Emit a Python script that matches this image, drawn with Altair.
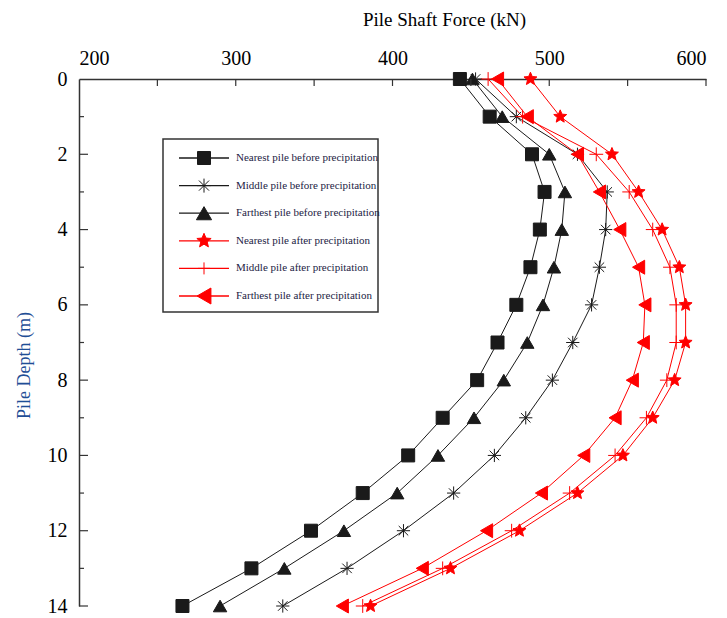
import math
import altair as alt
import pandas as pd

# ---------------- data ----------------
depth = list(range(15))
series = [
    "Nearest pile before precipitation",
    "Middle pile before precipitation",
    "Farthest pile before precipitation",
    "Nearest pile after precipitation",
    "Middle pile after precipitation",
    "Farthest pile after precipitation",
]
nearest_before = [443, 462, 489, 497, 494, 488, 479, 467, 454, 432, 410, 381, 348, 310, 266]
middle_before = [453, 479, 518, 537, 536, 532, 527, 515, 502, 485, 465, 439, 407, 371, 330]
farthest_before = [451, 470, 500, 510, 508, 503, 496, 486, 471, 452, 429, 403, 369, 331, 290]
nearest_after = [488, 507, 540, 557, 572, 583, 587, 587, 580, 566, 547, 518, 481, 437, 386]
middle_after = [461, 483, 530, 551, 566, 577, 581, 581, 575, 562, 542, 513, 476, 432, 381]
farthest_after = [467, 486, 518, 532, 545, 557, 561, 560, 553, 542, 522, 495, 460, 419, 368]
values = [nearest_before, middle_before, farthest_before,
          nearest_after, middle_after, farthest_after]

x_labels = [200, 300, 400, 500, 600]
x_ticks = [250, 300, 350, 400, 450, 500, 550, 600]
y_labels = [0, 2, 4, 6, 8, 10, 12, 14]
y_major_ticks = [2, 4, 6, 8, 10, 12, 14]
y_minor_ticks = [1, 3, 5, 7, 9, 11, 13]

# ---------------- styles ----------------
FONT = "Liberation Serif"
BLACK = "#1a1a1a"
RED = "#ff0000"
colors = [BLACK, BLACK, BLACK, RED, RED, RED]


def star_path(outer=1.0, inner=0.45):
    pts = []
    for k in range(10):
        r = outer if k % 2 == 0 else inner
        a = math.radians(-90 + 36 * k)
        pts.append((r * math.cos(a), r * math.sin(a)))
    return "M" + "L".join(f"{x:.3f},{y:.3f}" for x, y in pts) + "Z"


ASTERISK = "M0,-1V1M-1,0H1M-0.72,-0.72L0.72,0.72M-0.72,0.72L0.72,-0.72"
PLUS = "M0,-1V1M-1,0H1"
shapes = ["square", ASTERISK, "triangle-up", star_path(), PLUS, "triangle-left"]
sizes = [169, 196, 230, 225, 144, 256]

rows = []
for s, vals in zip(series, values):
    for d, v in zip(depth, vals):
        rows.append({"series": s, "depth": d, "force": v})
df = pd.DataFrame(rows)

W, H = 627, 527

x_scale = alt.Scale(domain=[200, 600], nice=False, zero=False)
y_scale = alt.Scale(domain=[0, 14], reverse=True, nice=False, zero=False)

base = alt.Chart(df)

lines = base.mark_line(strokeWidth=1).encode(
    x=alt.X("force:Q", scale=x_scale,
            axis=alt.Axis(orient="top", values=x_labels, ticks=False, tickSize=0,
                          grid=False, labelFont=FONT, labelFontSize=20,
                          labelColor="black", labelPadding=11,
                          domainColor="#333333", domainWidth=1.5,
                          title="Pile Shaft Force (kN)", titleFont=FONT,
                          titleFontSize=19, titleFontWeight="normal",
                          titleColor="black", titleX=365, titleY=-54,
                          titleBaseline="alphabetic", titleAlign="center")),
    y=alt.Y("depth:Q", scale=y_scale,
            axis=alt.Axis(orient="left", values=y_labels, ticks=False, tickSize=0,
                          grid=False, labelFont=FONT, labelFontSize=20,
                          labelColor="black", labelPadding=12,
                          domainColor="#333333", domainWidth=1.5,
                          title="Pile Depth (m)", titleFont=FONT,
                          titleFontSize=18, titleFontWeight="normal",
                          titleColor="#1f4e96", titleX=-55, titleY=286,
                          titleAngle=270, titleBaseline="middle",
                          titleAlign="center")),
    color=alt.Color("series:N", scale=alt.Scale(domain=series, range=colors), legend=None),
    detail="series:N",
    order="depth:Q",
)

points = base.mark_point(filled=True, strokeWidth=1, opacity=1).encode(
    x=alt.X("force:Q", scale=x_scale),
    y=alt.Y("depth:Q", scale=y_scale),
    shape=alt.Shape("series:N", scale=alt.Scale(domain=series, range=shapes), legend=None),
    fill=alt.Fill("series:N", scale=alt.Scale(domain=series, range=colors), legend=None),
    stroke=alt.Stroke("series:N", scale=alt.Scale(domain=series, range=colors), legend=None),
    size=alt.Size("series:N", scale=alt.Scale(domain=series, range=sizes), legend=None),
)

# inward ticks
xt = alt.Chart(pd.DataFrame({"v": x_ticks})).mark_rule(color="#333333", strokeWidth=1.2).encode(
    x=alt.X("v:Q", scale=x_scale), y=alt.value(0), y2=alt.value(7))
yt_major = alt.Chart(pd.DataFrame({"v": y_major_ticks})).mark_rule(color="#333333", strokeWidth=1.2).encode(
    y=alt.Y("v:Q", scale=y_scale), x=alt.value(0), x2=alt.value(9))
yt_minor = alt.Chart(pd.DataFrame({"v": y_minor_ticks})).mark_rule(color="#333333", strokeWidth=1.2).encode(
    y=alt.Y("v:Q", scale=y_scale), x=alt.value(0), x2=alt.value(5))

# legend (drawn manually to show line + marker)
one = pd.DataFrame({"a": [0]})
legend_layers = [
    alt.Chart(one).mark_rect(fill="white", stroke="#333333", strokeWidth=1.5).encode(
        x=alt.value(84), x2=alt.value(299), y=alt.value(60), y2=alt.value(233))
]
for i, s in enumerate(series):
    yy = 79 + i * 27.6
    ldf = pd.DataFrame({"series": [s]})
    legend_layers.append(
        alt.Chart(ldf).mark_rule(color=colors[i], strokeWidth=1.3).encode(
            x=alt.value(100), x2=alt.value(150), y=alt.value(yy)))
    legend_layers.append(
        alt.Chart(ldf).mark_point(filled=True, opacity=1, strokeWidth=1,
                                  fill=colors[i], stroke=colors[i],
                                  shape=shapes[i], size=sizes[i]).encode(
            x=alt.value(125), y=alt.value(yy)))
    legend_layers.append(
        alt.Chart(ldf).mark_text(align="left", baseline="middle", font=FONT,
                                 fontSize=11, color="#1c1c44").encode(
            x=alt.value(157), y=alt.value(yy), text="series:N"))

chart = alt.layer(lines, points, xt, yt_major, yt_minor, *legend_layers).properties(
    width=W, height=H,
    autosize=alt.AutoSizeParams(type="none"),
    padding={"left": 71, "top": 71, "right": 13, "bottom": 14},
).configure_view(stroke=None)

chart.save("out.html", embed_options={"renderer": "svg", "actions": False})
